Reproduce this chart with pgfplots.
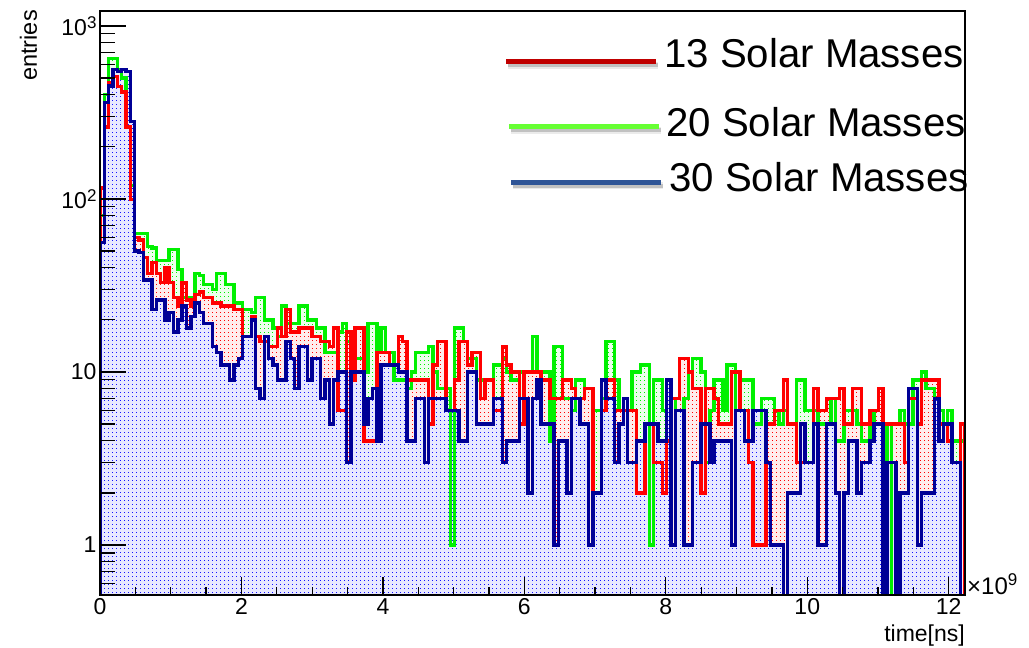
\documentclass[border=0pt]{standalone}
\usepackage{fontspec}
\setmainfont{Liberation Sans}
\usepackage{pgfplots}
\usepackage{pgfplotstable}
\pgfplotsset{compat=1.18}
\usetikzlibrary{patterns}

% dotted fill in the style of ROOT's fill pattern: one dot per 4pt cell
\pgfdeclarepatternformonly{rootdots}{\pgfqpoint{-1pt}{-1pt}}{\pgfqpoint{1pt}{1pt}}{\pgfqpoint{4pt}{4pt}}{%
  \pgfpathrectangle{\pgfqpoint{-0.45pt}{-0.45pt}}{\pgfqpoint{0.9pt}{0.9pt}}\pgfusepath{fill}}

\definecolor{hred}{RGB}{255,0,0}
\definecolor{hgreen}{RGB}{0,240,0}
\definecolor{hblue}{RGB}{0,0,150}
\definecolor{hbluedot}{RGB}{20,20,255}
\definecolor{tintred}{RGB}{255,236,236}
\definecolor{tintgreen}{RGB}{236,255,236}
\definecolor{tintblue}{RGB}{232,232,255}
\definecolor{legred}{RGB}{192,0,0}
\definecolor{leggreen}{RGB}{102,255,51}
\definecolor{legblue}{RGB}{47,85,151}

% 200 bins over [0, 12.23] x 10^9 ns; columns: bin index, entries for
% 13 (r), 20 (g) and 30 (b) solar masses.  Empty bins are entered as 0.1
% so that their edges drop below the lower limit of the log axis.
% The first and the last row close each histogram at the bottom.
\pgfplotstableread{
bin r g b
0 0.1 0.1 0.1
0 116 80 56
1 260 400 360
2 470 650 450
3 510 650 560
4 445 560 545
5 415 500 560
6 260 260 545
7 99 120 280
8 60 63 50
9 58 63 49
10 46 63 34
11 37 53 34
12 43 52 23
13 37 44 26
14 33 44 26
15 40 44 20
16 33 51 22
17 27 51 17
18 24 39 20
19 33 27 24
20 26 27 18
21 24 27 21
22 28 37 25
23 29 36 22
24 27 32 19
25 27 32 19
26 25 30 14
27 25 37 13
28 24 37 11
29 24 32 11
30 24 32 9
31 23 25 11
32 23 25 12
33 16 23 16
34 16 23 16
35 21 22 20
36 16 27 8
37 15 27 7
38 15 20 16
39 14 20 12
40 14 18 11
41 18 16 9
42 16 24 9
43 23 19 15
44 17 19 12
45 17 19 8
46 18 24 14
47 18 24 14
48 18 20 9
49 16 20 12
50 16 18 12
51 15 18 7
52 15 13 9
53 14 13 5
54 18 13 9
55 6 17 10
56 6 19 10
57 17 15 3
58 9 15 10
59 18 12 10
60 18 12 10
61 4 10 5
62 4 19 7
63 4 19 8
64 13 13 4
65 13 18 11
66 13 13 11
67 11 13 11
68 11 9 11
69 16 9 10
70 15 9 10
71 9 8 4
72 9 10 4
73 9 13 7
74 9 13 7
75 9 13 3
76 5 14 7
77 11 10 7
78 15 8 7
79 15 8 7
80 6 8 6
81 6 1 6
82 9 18 6
83 15 18 4
84 15 15 4
85 11 12 10
86 13 12 10
87 13 9 5
88 7 9 5
89 9 9 5
90 9 9 5
91 6 11 7
92 6 11 7
93 14 12 3
94 11 10 4
95 10 9 4
96 10 9 4
97 5 10 7
98 10 10 7
99 10 10 2
100 10 16 7
101 10 10 9
102 9 10 5
103 9 10 5
104 7 4 5
105 7 14 1
106 7 14 4
107 9 7 4
108 9 7 2
109 8 6 7
110 7 9 7
111 7 9 5
112 8 8 5
113 8 8 1
114 2 6 2
115 2 6 2
116 6 7 9
117 9 15 7
118 9 15 7
119 6 9 3
120 6 6 5
121 6 6 7
122 6 6 3
123 6 10 3
124 2 10 4
125 2 11 4
126 5 11 5
127 5 1 5
128 3 9 5
129 3 9 4
130 2 6 4
131 4 9 9
132 7 7 1
133 7 6 6
134 12 6 6
135 12 7 1
136 10 10 1
137 8 12 3
138 8 12 3
139 2 10 5
140 8 3 5
141 8 6 3
142 7 9 4
143 5 9 4
144 5 6 4
145 5 11 4
146 10 11 1
147 10 6 6
148 6 9 6
149 6 9 4
150 3 9 4
151 1 5 6
152 1 5 6
153 1 7 6
154 5 7 3
155 5 7 1
156 6 6 1
157 6 5 1
158 9 6 0.1
159 5 5 2
160 5 5 2
161 3 9 2
162 3 9 5
163 3 6 3
164 3 6 3
165 8 6 5
166 6 5 1
167 6 5 1
168 7 5 5
169 7 7 5
170 7 4 2
171 8 4 0.1
172 5 6 2
173 5 6 4
174 8 6 4
175 8 5 2
176 5 4 3
177 5 4 3
178 6 6 4
179 6 5 5
180 8 5 5
181 5 5 0.1
182 5 0.1 3
183 5 5 3
184 5 5 0.1
185 5 6 2
186 3 5 2
187 7 5 8
188 7 9 8
189 5 9 1
190 9 10 2
191 9 8 2
192 9 8 2
193 9 7 7
194 5 6 4
195 5 5 5
196 4 6 5
197 3 4 3
198 3 4 3
199 5 4 0.1
200 5 4 0.1
200 0.1 0.1 0.1
}\hist

\pgfplotsset{
  histfill/.style 2 args={const plot mark left, draw=none, fill=#2,
    postaction={pattern=rootdots, pattern color=#1}},
  histline/.style={const plot mark left, draw=#1, fill=none, line width=3.4pt},
}

\begin{document}
\begin{tikzpicture}
\useasboundingbox (-100pt,-53pt) rectangle (929pt,595pt);
\begin{axis}[
  at={(0pt,0pt)}, anchor=south west,
  scale only axis, width=865pt, height=584pt,
  xmin=0, xmax=12.23,
  ymode=log, ymin=0.514, ymax=1220,
  axis on top,
  xtick={0,2,4,6,8,10,12},
  xticklabels={0,2,4,6,8,10,12},
  minor xtick={0.5,1,1.5,2.5,3,3.5,4.5,5,5.5,6.5,7,7.5,8.5,9,9.5,10.5,11,11.5},
  ytick={1,10,100,1000},
  yticklabels={1,10,10\raisebox{7pt}{\fontsize{17}{17}\selectfont 2},10\raisebox{7pt}{\fontsize{17}{17}\selectfont 3}},
  minor ytick={0.6,0.7,0.8,0.9,2,3,4,5,6,7,8,9,20,30,40,50,60,70,80,90,200,300,400,500,600,700,800,900},
  tick pos=left, tick align=inside,
  major tick length=26pt, minor tick length=15pt,
  xtick style={/pgfplots/major tick length=18pt, /pgfplots/minor tick length=8pt},
  every tick/.style={black, line width=1.2pt},
  axis line style={black, line width=1.2pt},
  ticklabel style={font=\fontsize{23}{23}\selectfont},
  xlabel={time[ns]},
  xlabel style={at={(rel axis cs:1,0)}, anchor=base east, inner sep=0pt,
    yshift=-46pt, font=\fontsize{23}{23}\selectfont},
  ylabel={entries},
  ylabel style={at={(rel axis cs:0,1)}, anchor=base east, inner sep=0pt,
    xshift=1pt, yshift=63pt, font=\fontsize{23.5}{23.5}\selectfont},
  line join=miter,
]
% dotted areas, each one hiding the dots beneath it
\addplot[histfill={hgreen}{tintgreen}] table[x expr=\thisrow{bin}*0.06115, y=g] {\hist};
\addplot[histfill={hred}{tintred}] table[x expr=\thisrow{bin}*0.06115, y=r] {\hist};
\addplot[histfill={hbluedot}{tintblue}] table[x expr=\thisrow{bin}*0.06115, y=b] {\hist};
% outlines
\addplot[histline=hgreen] table[x expr=\thisrow{bin}*0.06115, y=g] {\hist};
\addplot[histline=hred] table[x expr=\thisrow{bin}*0.06115, y=r] {\hist};
\addplot[histline=hblue] table[x expr=\thisrow{bin}*0.06115, y=b] {\hist};
\end{axis}

% exponent of the time axis
\node[anchor=base west, inner sep=0pt, font=\fontsize{24}{24}\selectfont]
  at (867pt,0pt) {×10\raisebox{9pt}{\fontsize{17}{17}\selectfont 9}};

% legend
\begin{scope}[x=1pt, y=1pt]
  \foreach \yy/\xa/\xb/\col in {533.3/406/556/legred, 468.3/409/559/leggreen, 412.7/411/561/legblue}{
    \draw[line width=7pt, black, opacity=0.08] (\xa+1.5,\yy-3.5) -- (\xb+1.5,\yy-3.5);
    \draw[line width=4pt, black, opacity=0.18] (\xa+1.5,\yy-3.5) -- (\xb+1.5,\yy-3.5);
    \draw[line width=5pt, \col] (\xa,\yy) -- (\xb,\yy);
  }
  \node[anchor=base west, inner sep=0pt, font=\fontsize{40.2}{40.2}\selectfont] at (564,527) {13 Solar Masses};
  \node[anchor=base west, inner sep=0pt, font=\fontsize{40.2}{40.2}\selectfont] at (566,458.3) {20 Solar Masses};
  \node[anchor=base west, inner sep=0pt, font=\fontsize{40.2}{40.2}\selectfont] at (569,403.3) {30 Solar Masses};
\end{scope}
\end{tikzpicture}
\end{document}
